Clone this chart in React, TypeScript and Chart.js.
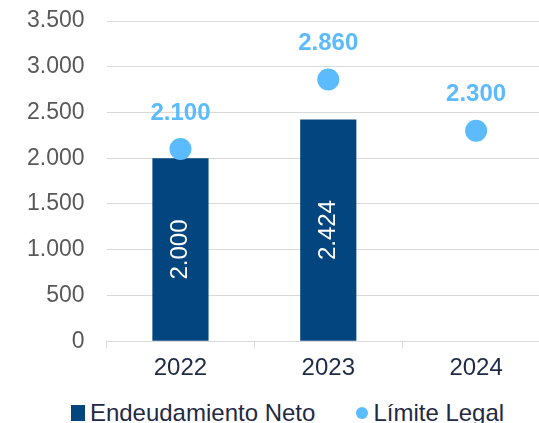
import React, { useEffect, useRef } from "react";
import { Chart, registerables } from "chart.js";

Chart.register(...registerables);

const categories = ["2022", "2023", "2024"];
const endeudamientoNeto: (number | null)[] = [2000, 2424, null];
const limiteLegal = [2100, 2860, 2300];
const yTicks = [0, 500, 1000, 1500, 2000, 2500, 3000, 3500];
const seriesNames = ["Endeudamiento Neto", "Límite Legal"];

const NAVY = "#03457f";
const LIGHT = "#5bbbfd";
const TEXT_DARK = "#1f2a44";
const FONT = "'Liberation Sans', Arial, sans-serif";

const fmt = (v: number) => String(v).replace(/\B(?=(\d{3})+(?!\d))/g, ".");

const labelPlugin = {
  id: "valueLabels",
  afterDatasetsDraw(chart: any) {
    const ctx = chart.ctx;
    ctx.save();
    const barMeta = chart.getDatasetMeta(0);
    barMeta.data.forEach((el: any, i: number) => {
      const v = chart.data.datasets[0].data[i];
      if (v == null) return;
      const cy = (el.y + el.base) / 2;
      ctx.save();
      ctx.translate(el.x, cy);
      ctx.rotate(-Math.PI / 2);
      ctx.fillStyle = "#ffffff";
      ctx.font = `24px ${FONT}`;
      ctx.textAlign = "center";
      ctx.textBaseline = "middle";
      ctx.fillText(fmt(v), 0, 0);
      ctx.restore();
    });
    const ptMeta = chart.getDatasetMeta(1);
    ptMeta.data.forEach((el: any, i: number) => {
      const v = chart.data.datasets[1].data[i];
      if (v == null) return;
      ctx.fillStyle = LIGHT;
      ctx.font = `bold 24px ${FONT}`;
      ctx.textAlign = "center";
      ctx.textBaseline = "middle";
      ctx.fillText(fmt(v), el.x, el.y - 36);
    });
    ctx.restore();
  },
};

export default function App() {
  const ref = useRef<HTMLCanvasElement>(null);

  useEffect(() => {
    if (!ref.current) return;
    const chart = new Chart(ref.current, {
      type: "bar",
      data: {
        labels: categories,
        datasets: [
          {
            type: "bar",
            label: seriesNames[0],
            data: endeudamientoNeto,
            backgroundColor: NAVY,
            barPercentage: 1,
            categoryPercentage: 0.38,
            order: 2,
          } as any,
          {
            type: "line",
            label: seriesNames[1],
            data: limiteLegal,
            showLine: false,
            pointRadius: 11,
            pointHoverRadius: 11,
            pointBackgroundColor: LIGHT,
            pointBorderColor: LIGHT,
            pointBorderWidth: 0,
            backgroundColor: LIGHT,
            borderColor: LIGHT,
            order: 1,
          } as any,
        ],
      },
      options: {
        animation: false,
        responsive: false,
        devicePixelRatio: 1,
        layout: { autoPadding: false, padding: { left: 5, right: 25, top: 21, bottom: 6 } },
        plugins: {
          legend: { display: false },
          tooltip: { enabled: false },
        },
        scales: {
          x: {
            offset: true,
            grid: {
              offset: true,
              drawOnChartArea: false,
              drawTicks: true,
              tickLength: 7,
              color: "#d9d9d9",
            },
            border: { display: true, color: "#d9d9d9", width: 1 },
            ticks: {
              font: { family: FONT, size: 24 },
              color: TEXT_DARK,
              padding: 6,
            },
          },
          y: {
            min: 0,
            max: 3500,
            afterBuildTicks: (axis: any) => {
              axis.ticks = yTicks.map((v) => ({ value: v }));
            },
            afterFit: (axis: any) => {
              axis.paddingTop = 0;
              axis.paddingBottom = 0;
            },
            grid: { color: "#d9d9d9", drawTicks: false },
            border: { display: false },
            ticks: {
              font: { family: FONT, size: 23 },
              color: "#595959",
              padding: 22,
              callback: (v: any) => fmt(Number(v)),
            },
          },
        },
      },
      plugins: [labelPlugin],
    });
    return () => chart.destroy();
  }, []);

  return (
    <div
      style={{
        position: "absolute",
        left: 0,
        top: 0,
        width: 539,
        height: 423,
        overflow: "hidden",
        background: "#fff",
      }}
    >
      <div style={{ position: "absolute", left: 0, top: 0, width: 575, height: 395 }}>
        <canvas ref={ref} width={575} height={395} style={{ display: "block" }} />
      </div>
      <div
        style={{
          position: "absolute",
          left: 0,
          top: 401,
          width: 575,
          display: "flex",
          justifyContent: "center",
          alignItems: "center",
          fontFamily: FONT,
          fontSize: 24,
          lineHeight: "24px",
          color: TEXT_DARK,
          whiteSpace: "nowrap",
        }}
      >
        <span style={{ width: 14, height: 16, background: NAVY, display: "inline-block", marginRight: 5 }} />
        <span>{seriesNames[0]}</span>
        <span
          style={{
            width: 12,
            height: 12,
            borderRadius: "50%",
            background: LIGHT,
            display: "inline-block",
            marginLeft: 41,
            marginRight: 5,
          }}
        />
        <span>{seriesNames[1]}</span>
      </div>
    </div>
  );
}
